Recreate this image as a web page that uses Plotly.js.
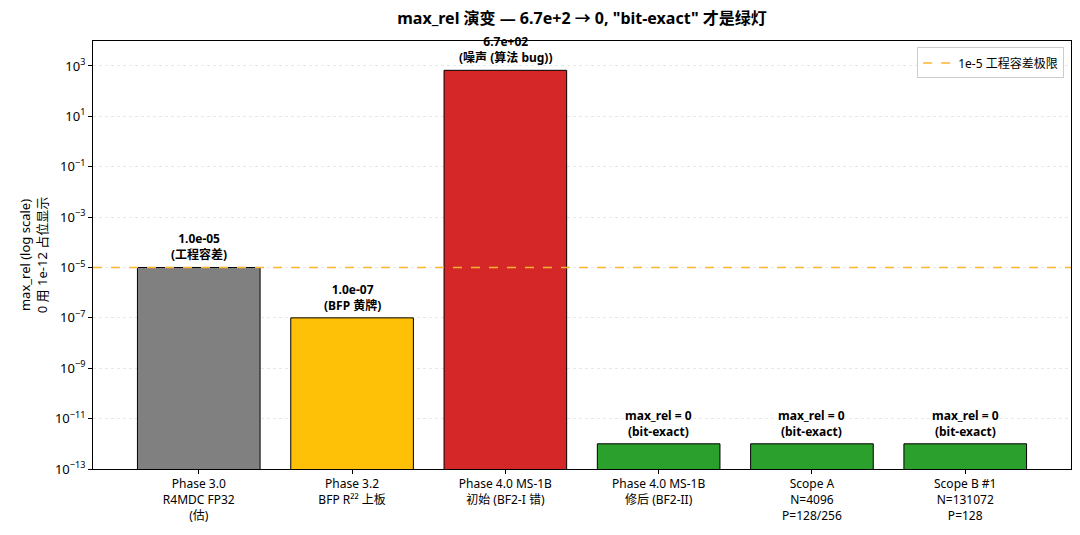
<!DOCTYPE html>
<html>
<head>
<meta charset="utf-8">
<script src="https://cdn.plot.ly/plotly-3.0.1.min.js"></script>
<style>
  html, body { margin: 0; padding: 0; background: #fff; }
  #chart { width: 1080px; height: 535px; }
</style>
</head>
<body>
<div id="chart"></div>
<script>
const categories = [
  "Phase 3.0<br>R4MDC FP32<br>(估)",
  "Phase 3.2<br>BFP R²² 上板",
  "Phase 4.0 MS-1B<br>初始 (BF2-I 错)",
  "Phase 4.0 MS-1B<br>修后 (BF2-II)",
  "Scope A<br>N=4096<br>P=128/256",
  "Scope B #1<br>N=131072<br>P=128",
];
const maxRel = [1e-5, 1e-7, 6.7e2, 0, 0, 0];
const zeroPlaceholder = 1e-12;
const barLabels = [
  "1.0e-05<br>(工程容差)",
  "1.0e-07<br>(BFP 黄牌)",
  "6.7e+02<br>(噪声 (算法 bug))",
  "max_rel = 0<br>(bit-exact)",
  "max_rel = 0<br>(bit-exact)",
  "max_rel = 0<br>(bit-exact)",
];
const barColors = ["#808080", "#FFC107", "#D62728", "#2CA02C", "#2CA02C", "#2CA02C"];
const tolerance = 1e-5;
const tickExponents = [-13, -11, -9, -7, -5, -3, -1, 1, 3];

const font = '"Noto Sans", "Noto Sans CJK SC", sans-serif';
const shown = maxRel.map(v => (v === 0 ? zeroPlaceholder : v));

const bars = {
  type: "bar",
  x: categories,
  y: shown,
  width: 0.8,
  marker: { color: barColors, line: { color: "#000", width: 1 } },
  showlegend: false,
  hoverinfo: "skip",
};

const annotations = categories.map((c, i) => ({
  x: c,
  y: Math.log10(shown[i]),
  xref: "x",
  yref: "y",
  text: "<b>" + barLabels[i] + "</b>",
  showarrow: false,
  yanchor: "bottom",
  yshift: 2,
  font: { family: font, size: 12, color: "#000" },
}));

const layout = {
  width: 1080,
  height: 535,
  margin: { l: 93, r: 9, t: 41, b: 66 },
  paper_bgcolor: "#fff",
  plot_bgcolor: "#fff",
  font: { family: font, size: 12, color: "#000" },
  title: {
    text: '<b>max_rel 演变 — 6.7e+2 → 0, "bit-exact" 才是绿灯</b>',
    font: { family: font, size: 16, color: "#000" },
    x: 0.5,
    xref: "paper",
    y: 0.965,
    yanchor: "middle",
  },
  xaxis: {
    type: "category",
    range: [-0.69, 5.69],
    showline: true,
    linecolor: "#000",
    linewidth: 1,
    mirror: true,
    ticks: "outside",
    ticklen: 4,
    tickcolor: "#000",
    showgrid: false,
    tickfont: { family: font, size: 12 },
  },
  yaxis: {
    type: "log",
    range: [-13, 3.99],
    tickvals: tickExponents.map(e => Math.pow(10, e)),
    ticktext: tickExponents.map(e => "10<sup>" + (e < 0 ? "−" + (-e) : e) + "</sup>"),
    showline: true,
    linecolor: "#000",
    linewidth: 1,
    mirror: true,
    ticks: "outside",
    ticklen: 4,
    tickcolor: "#000",
    showgrid: true,
    gridcolor: "#e8e8e8",
    griddash: "dot",
    gridwidth: 1,
    zeroline: false,
    tickfont: { family: font, size: 13 },
    title: {
      text: "max_rel (log scale)<br>0 用 1e-12 占位显示",
      font: { family: font, size: 13 },
      standoff: 4,
    },
  },
  shapes: [
    {
      type: "line",
      layer: "above",
      xref: "paper",
      x0: 0,
      x1: 1,
      yref: "y",
      y0: tolerance,
      y1: tolerance,
      line: { color: "#FFB52E", width: 1.5, dash: "dash" },
      showlegend: true,
      name: "1e-5 工程容差极限",
    },
  ],
  legend: {
    x: 0.993,
    y: 0.985,
    xanchor: "right",
    yanchor: "top",
    bgcolor: "rgba(255,255,255,0.9)",
    bordercolor: "#cccccc",
    borderwidth: 1,
    font: { family: font, size: 12 },
  },
  annotations: annotations,
};

Plotly.newPlot("chart", [bars], layout, { staticPlot: true });
</script>
</body>
</html>
